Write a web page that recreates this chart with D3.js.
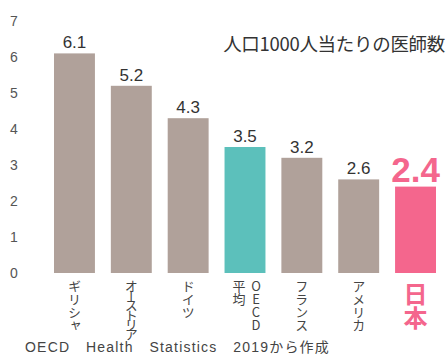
<!DOCTYPE html>
<html>
<head>
<meta charset="utf-8">
<script src="https://cdn.jsdelivr.net/npm/d3@7"></script>
<style>
  html, body { margin: 0; padding: 0; background: #fff; }
  svg { display: block; }
</style>
</head>
<body>
<div id="chart"></div>
<script>
// 人口1000人当たりの医師数 (OECD Health Statistics 2019)
const countries = ['ギリシャ', 'オーストリア', 'ドイツ', 'OECD平均', 'フランス', 'アメリカ', '日本'];
const doctors = [6.1, 5.2, 4.3, 3.5, 3.2, 2.6, 2.4];
const yTicks = [0, 1, 2, 3, 4, 5, 6, 7];

const width = 446, height = 355;
const JP = '"Noto Sans CJK JP", "Noto Sans", sans-serif';
const NUM = '"Liberation Sans", Arial, sans-serif';

const COLORS = {
  normal: '#b0a19a',
  oecd: '#5cc0bb',
  japan: '#f4668d'
};
const colorOf = d => d === 'OECD平均' ? COLORS.oecd : d === '日本' ? COLORS.japan : COLORS.normal;

const svg = d3.select('#chart').append('svg')
  .attr('width', width)
  .attr('height', height);

const x = d3.scaleBand()
  .domain(countries)
  .range([54, 436])
  .paddingInner(0.28)
  .paddingOuter(0);

const y = d3.scaleLinear().domain([0, 7]).range([273, 21]);

// y axis: labels only
svg.append('g')
  .attr('transform', 'translate(14,0)')
  .call(d3.axisLeft(y).tickValues(yTicks).tickFormat(d3.format('d')).tickSize(0).tickPadding(0))
  .call(g => g.select('.domain').remove())
  .call(g => g.selectAll('text')
    .attr('text-anchor', 'middle')
    .attr('x', 0)
    .attr('fill', '#555')
    .style('font-family', NUM)
    .style('font-size', '14px'));

const data = countries.map((c, i) => ({ name: c, value: doctors[i] }));

svg.selectAll('.bar')
  .data(data)
  .enter()
  .append('rect')
  .attr('x', d => x(d.name))
  .attr('y', d => y(d.value))
  .attr('width', x.bandwidth())
  .attr('height', d => y(0) - y(d.value))
  .attr('fill', d => colorOf(d.name));

// value labels
svg.selectAll('.val')
  .data(data)
  .enter()
  .append('text')
  .attr('x', d => x(d.name) + x.bandwidth() / 2)
  .attr('y', d => y(d.value) - 5)
  .attr('text-anchor', 'middle')
  .attr('fill', d => d.name === '日本' ? COLORS.japan : '#333')
  .style('font-family', NUM)
  .style('font-weight', d => d.name === '日本' ? 'bold' : 'normal')
  .style('font-size', d => d.name === '日本' ? '35px' : '17px')
  .text(d => d.value.toFixed(1));

// vertical category labels
const labelTop = 280, maxLen = 57;
data.forEach(d => {
  const cx = x(d.name) + x.bandwidth() / 2;
  if (d.name === 'OECD平均') {
    svg.append('text')
      .attr('x', cx + 11).attr('y', labelTop)
      .style('writing-mode', 'vertical-rl')
      .style('text-orientation', 'upright')
      .style('font-family', JP).style('font-size', '13px')
      .attr('fill', '#444')
      .text('OECD');
    svg.append('text')
      .attr('x', cx - 6).attr('y', labelTop)
      .style('writing-mode', 'vertical-rl')
      .style('font-family', JP).style('font-size', '13px')
      .attr('fill', '#444')
      .text('平均');
    return;
  }
  const isJapan = d.name === '日本';
  const t = svg.append('text')
    .attr('x', cx).attr('y', labelTop + (isJapan ? 2 : 0))
    .style('writing-mode', 'vertical-rl')
    .style('text-orientation', 'mixed')
    .style('font-family', JP)
    .style('font-size', isJapan ? '24px' : '13px')
    .style('font-weight', isJapan ? 'bold' : 'normal')
    .attr('fill', isJapan ? COLORS.japan : '#444')
    .text(d.name);
  const len = t.node().getComputedTextLength();
  if (len > maxLen) {
    t.style('letter-spacing', `${(maxLen - len) / d.name.length}px`);
  }
});

// title
svg.append('text')
  .attr('x', 445).attr('y', 51)
  .attr('text-anchor', 'end')
  .attr('fill', '#333')
  .style('font-family', JP)
  .style('font-size', '18.5px')
  .style('letter-spacing', '-0.3px')
  .text('人口1000人当たりの医師数');

// source
const src = svg.append('text')
  .attr('x', 25).attr('y', 352)
  .attr('fill', '#444')
  .style('font-family', NUM + ', ' + JP)
  .style('font-size', '14px')
  .style('letter-spacing', '1.2px')
  .style('word-spacing', '0px')
  .text('OECD Health Statistics 2019から作成');
const srcLen = src.node().getComputedTextLength();
src.style('word-spacing', `${Math.max(0, (305 - srcLen) / 3)}px`);
</script>
</body>
</html>
